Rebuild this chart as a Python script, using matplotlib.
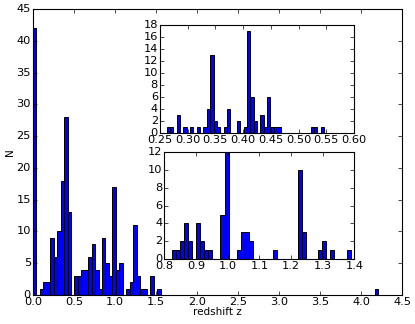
import numpy as np
import matplotlib
matplotlib.use('Agg')
import matplotlib.pyplot as plt

plt.style.use('classic')
plt.rcParams['font.family'] = 'DejaVu Sans'
plt.rcParams['font.size'] = 8.2
plt.rcParams['xtick.major.size'] = 3
plt.rcParams['ytick.major.size'] = 3
plt.rcParams['xtick.minor.size'] = 0
plt.rcParams['ytick.minor.size'] = 0
plt.rcParams['axes.linewidth'] = 0.8

# full sample: 100 bins from z=0 to z=4.21
main_counts = ([42, 0, 1, 2, 2, 9, 6, 10, 18, 28, 13, 0, 3, 3, 4, 4, 6, 8, 4, 1,
                9, 5, 3, 17, 4, 5, 0, 1, 2, 11, 3, 1, 1, 0, 3, 0, 1]
               + [0] * 62 + [1])
main_zmin, main_zmax = 0.0, 4.21

# zoom on 0.25 < z < 0.6 (47 bins)
low_counts = ([1, 1, 0, 3, 0, 1, 0, 1, 0, 1, 0, 1, 4, 13, 2, 1, 0, 1, 4, 0,
               0, 2, 0, 1, 17, 6, 2, 0, 3, 1, 6, 1, 1, 1]
              + [0] * 9 + [1, 1, 0, 1])
low_zmin, low_zmax = 0.262, 0.546

# zoom on 0.8 < z < 1.4 (44 bins)
high_counts = [1, 1, 2, 4, 2, 0, 4, 2, 1, 1, 0, 0, 5, 12, 0, 0, 1, 3, 3, 2,
               0, 0, 0, 0, 0, 1, 0, 0, 0, 0, 0, 10, 3, 0, 0, 0, 1, 2, 0, 1,
               0, 0, 0, 1]
high_zmin, high_zmax = 0.823, 1.388


def draw_hist(ax, counts, zmin, zmax):
    edges = np.linspace(zmin, zmax, len(counts) + 1)
    ax.hist(edges[:-1], bins=edges, weights=counts, color='b',
            edgecolor='k', linewidth=0.7)


fig = plt.figure(figsize=(4.15, 3.24), dpi=100, facecolor='w')

ax = fig.add_axes([0.0795, 0.0895, 0.8892, 0.8827])
draw_hist(ax, main_counts, main_zmin, main_zmax)
ax.set_xlim(0, 4.5)
ax.set_ylim(0, 45)
ax.set_xticks(np.arange(0, 4.51, 0.5))
ax.set_xticklabels(['%.1f' % t for t in np.arange(0, 4.51, 0.5)])
ax.set_yticks(np.arange(0, 46, 5))
ax.set_xlabel('redshift z', fontsize=7.5, labelpad=0)
ax.set_ylabel('N', fontsize=7.5, labelpad=1)

ax1 = fig.add_axes([0.3855, 0.5886, 0.4675, 0.3342])
draw_hist(ax1, low_counts, low_zmin, low_zmax)
ax1.set_xlim(0.25, 0.6)
ax1.set_ylim(0, 18)
xt = np.arange(0.25, 0.601, 0.05)
ax1.set_xticks(xt)
ax1.set_xticklabels(['%.2f' % t for t in xt])
ax1.set_yticks(np.arange(0, 19, 2))

ax2 = fig.add_axes([0.396, 0.2006, 0.458, 0.3293])
draw_hist(ax2, high_counts, high_zmin, high_zmax)
ax2.set_xlim(0.8, 1.4)
ax2.set_ylim(0, 12)
xt = np.arange(0.8, 1.401, 0.1)
ax2.set_xticks(xt)
ax2.set_xticklabels(['%.1f' % t for t in xt])
ax2.set_yticks(np.arange(0, 13, 2))

for a in (ax, ax1, ax2):
    a.tick_params(pad=1.5)

fig.savefig('out.png', dpi=100, facecolor='w')
